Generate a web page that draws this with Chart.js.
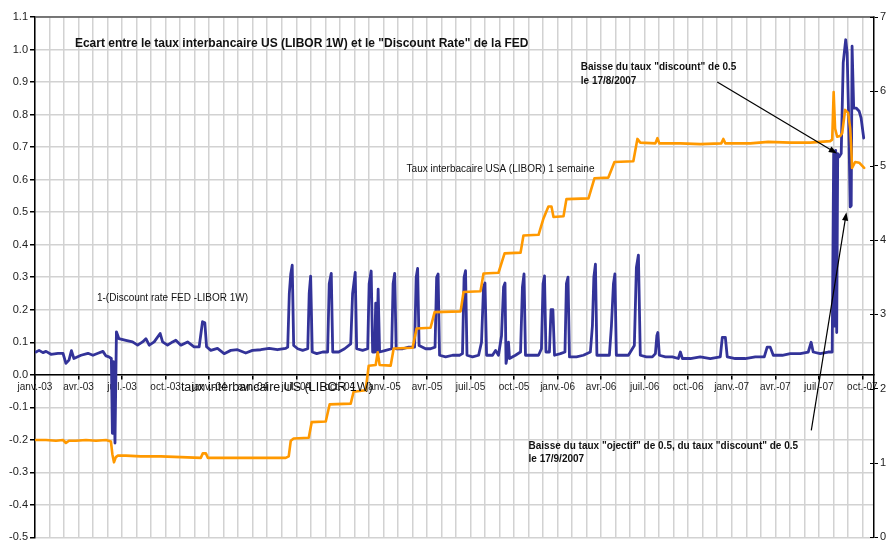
<!DOCTYPE html>
<html>
<head>
<meta charset="utf-8">
<script src="https://cdn.jsdelivr.net/npm/chart.js@4.4.1/dist/chart.umd.min.js"></script>
<style>
    html, body { margin: 0; padding: 0; background: #fff; overflow: hidden; }
    #wrap { width: 888px; height: 542px; overflow: hidden; }
</style>
</head>
<body>
<div id="wrap"><canvas id="chart" width="888" height="546"></canvas></div>
<script>
// x values are months counted from janv.-03 (0 = 1 Jan 2003)
const xTickLabels = [
    "janv.-03", "avr.-03", "juil.-03", "oct.-03",
    "janv.-04", "avr.-04", "juil.-04", "oct.-04",
    "janv.-05", "avr.-05", "juil.-05", "oct.-05",
    "janv.-06", "avr.-06", "juil.-06", "oct.-06",
    "janv.-07", "avr.-07", "juil.-07", "oct.-07",
];

// 1-(Discount rate FED - LIBOR 1W), left axis
const spreadMonths = [
    0.07, 0.28, 0.55, 0.76, 1.10, 1.58, 1.93, 2.13, 2.34, 2.51, 2.68, 3.17, 3.65, 3.99, 4.34, 4.68, 4.89, 5.09, 5.26, 5.33, 5.40, 5.51,
    5.61, 5.78, 6.26, 6.72, 7.07, 7.41, 7.64, 7.87, 8.21, 8.62, 8.79, 9.13, 9.48, 9.70, 10.05, 10.51, 10.96, 11.31, 11.54, 11.70, 11.82, 12.11, 12.57, 13.03, 13.49, 13.95, 14.52, 14.98, 15.55, 16.13, 16.70, 17.27,
    17.41, 17.52, 17.62, 17.72, 17.82, 18.10, 18.44, 18.79,
    18.89, 18.99, 19.10, 19.41, 19.82, 20.16,
    20.27, 20.41, 20.51, 20.92, 21.33, 21.75,
    21.88, 22.06, 22.16, 22.57, 22.92,
    23.02, 23.16, 23.26, 23.40, 23.47, 23.54, 23.64, 23.74, 24.16, 24.57,
    24.67, 24.78, 24.88, 25.33, 25.74, 26.15,
    26.26, 26.36, 26.46, 26.91, 27.25, 27.56,
    27.67, 27.77, 27.87, 28.29, 28.77, 29.25, 29.45,
    29.56, 29.66, 29.76, 30.14, 30.56, 30.76,
    30.90, 31.00, 31.11, 31.52, 31.73, 31.93, 32.14,
    32.28, 32.38, 32.45, 32.55, 32.62, 32.69, 33.10, 33.45,
    33.58, 33.69, 33.79, 34.27, 34.69, 34.89,
    35.00, 35.10, 35.20, 35.44, 35.55, 35.68, 35.79, 36.20, 36.51,
    36.61, 36.72, 36.82, 37.30, 37.78, 38.26, 38.40,
    38.50, 38.61, 38.71, 39.16, 39.57, 39.71,
    39.85, 39.95, 40.05, 40.47, 40.88, 41.29,
    41.43, 41.57, 41.70, 42.12, 42.53, 42.74,
    42.84, 42.91, 43.01, 43.43, 43.91, 44.32, 44.46, 44.60, 45.15, 45.83, 46.52, 47.21,
    47.35, 47.56, 47.69, 48.24, 48.93, 49.62, 50.24, 50.44, 50.65, 50.86, 51.48, 52.03, 52.72, 53.27, 53.47, 53.61, 54.09, 54.64, 54.92,
    55.02, 55.09, 55.16, 55.23, 55.30, 55.40, 55.54, 55.68, 55.85, 55.95, 56.05, 56.16, 56.23, 56.29, 56.40, 56.57, 56.78, 56.91, 57.09,
];
const spreadValues = [
    0.070, 0.075, 0.068, 0.072, 0.063, 0.066, 0.066, 0.035, 0.045, 0.074, 0.050, 0.060, 0.066, 0.060, 0.066, 0.072, 0.058, 0.055, 0.050, -0.180, 0.040, -0.210,
    0.132, 0.111, 0.106, 0.101, 0.091, 0.101, 0.111, 0.091, 0.101, 0.127, 0.101, 0.091, 0.101, 0.106, 0.091, 0.101, 0.086, 0.086, 0.163, 0.160, 0.086, 0.075, 0.081, 0.065, 0.075, 0.077, 0.067, 0.075, 0.077, 0.081, 0.077, 0.081,
    0.085, 0.25, 0.31, 0.337, 0.09, 0.08, 0.075, 0.08,
    0.25, 0.303, 0.07, 0.065, 0.07, 0.07,
    0.28, 0.312, 0.07, 0.07, 0.08, 0.095,
    0.25, 0.315, 0.08, 0.075, 0.08,
    0.28, 0.319, 0.07, 0.07, 0.22, 0.07, 0.263, 0.07, 0.075, 0.08,
    0.28, 0.312, 0.08, 0.08, 0.085, 0.085,
    0.30, 0.327, 0.09, 0.08, 0.08, 0.085,
    0.30, 0.31, 0.06, 0.055, 0.06, 0.06, 0.065,
    0.30, 0.32, 0.06, 0.055, 0.06, 0.10,
    0.27, 0.282, 0.06, 0.06, 0.075, 0.06, 0.12,
    0.27, 0.282, 0.035, 0.06, 0.10, 0.05, 0.06, 0.07,
    0.27, 0.31, 0.06, 0.06, 0.06, 0.08,
    0.28, 0.304, 0.07, 0.07, 0.20, 0.20, 0.06, 0.065, 0.07,
    0.28, 0.30, 0.055, 0.055, 0.06, 0.07, 0.15,
    0.30, 0.34, 0.06, 0.06, 0.06, 0.15,
    0.28, 0.31, 0.06, 0.06, 0.06, 0.09,
    0.33, 0.368, 0.06, 0.055, 0.055, 0.065,
    0.12, 0.13, 0.06, 0.055, 0.055, 0.05, 0.07, 0.05, 0.05, 0.055, 0.05, 0.055,
    0.115, 0.115, 0.055, 0.05, 0.05, 0.055, 0.055, 0.085, 0.085, 0.06, 0.06, 0.065, 0.065, 0.07, 0.10, 0.07, 0.065, 0.07, 0.07,
    0.68, 0.15, 0.69, 0.13, 0.68, 0.67, 0.68, 0.96, 1.03, 0.99, 0.80, 0.516, 0.52, 1.01, 0.82, 0.82, 0.81, 0.79, 0.728,
];

// LIBOR 1 week (%), right axis
const liborMonths = [
    0.07, 0.76, 1.45, 1.93, 2.13, 2.34, 2.82, 3.51, 4.20, 4.89,
    5.23, 5.33, 5.44, 5.57, 5.71, 6.26, 7.29, 8.67, 10.05, 11.42,
    11.56, 11.77, 11.91, 13.49, 15.55, 17.27, 17.48, 17.62, 17.82, 18.86,
    19.06, 20.03, 20.30, 21.75, 21.95, 22.78, 22.99, 23.47, 23.61, 23.74,
    24.50, 24.71, 26.01, 26.29, 27.25, 27.53, 29.32, 29.52, 30.69, 30.90,
    31.93, 32.35, 33.45, 33.65, 34.69, 35.03, 35.37, 35.58, 35.72, 36.41,
    36.61, 38.13, 38.54, 39.50, 39.92, 41.22, 41.50, 41.70, 42.74, 42.88,
    43.01, 44.46, 45.83, 47.28, 47.42, 47.56, 49.28, 50.51, 52.03, 53.40,
    54.78, 54.92, 55.02, 55.12, 55.26, 55.47, 55.61, 55.81, 56.02, 56.16,
    56.23, 56.29, 56.50, 56.78, 57.12,
];
const liborValues = [
    1.31, 1.31, 1.30, 1.31, 1.27, 1.30, 1.30, 1.31, 1.30, 1.31,
    1.29, 1.12, 1.01, 1.08, 1.10, 1.10, 1.09, 1.09, 1.08, 1.07,
    1.13, 1.13, 1.07, 1.07, 1.07, 1.07, 1.09, 1.30, 1.33, 1.34,
    1.55, 1.56, 1.79, 1.80, 1.96, 1.98, 2.31, 2.32, 2.49, 2.32,
    2.31, 2.54, 2.55, 2.81, 2.82, 3.03, 3.04, 3.30, 3.31, 3.55,
    3.56, 3.82, 3.83, 4.06, 4.07, 4.29, 4.45, 4.45, 4.31, 4.32,
    4.55, 4.56, 4.83, 4.84, 5.05, 5.06, 5.36, 5.31, 5.30, 5.37,
    5.30, 5.30, 5.29, 5.30, 5.36, 5.30, 5.30, 5.32, 5.31, 5.31,
    5.33, 5.35, 5.99, 5.50, 5.39, 5.40, 5.44, 5.75, 5.71, 5.50,
    5.25, 4.97, 5.05, 5.04, 4.97,
];

// text placed in chart coordinates (month, left-axis value)
const notes = [
    { text: 'Ecart entre le taux interbancaire US (LIBOR 1W) et le "Discount Rate" de la FED', x: 2.75, y: 1.017, bold: true, size: 12 },
    { text: 'Baisse du taux "discount" de 0.5', x: 37.6, y: 0.946, bold: true, size: 10 },
    { text: 'le 17/8/2007', x: 37.6, y: 0.903, bold: true, size: 10 },
    { text: 'Taux interbacaire USA (LIBOR) 1 semaine', x: 25.6, y: 0.632, bold: false, size: 10 },
    { text: '1-(Discount rate FED -LIBOR 1W)', x: 4.27, y: 0.235, bold: false, size: 10 },
    { text: 'taux interbancaire US (LIBOR 1W)', x: 10.05, y: -0.038, bold: false, size: 12.5 },
    { text: 'Baisse du taux "ojectif" de 0.5, du taux "discount" de 0.5', x: 34.0, y: -0.22, bold: true, size: 10 },
    { text: 'le 17/9/2007', x: 34.0, y: -0.26, bold: true, size: 10 },
];
const arrows = [
    { from: [47.0, 0.9], to: [55.26, 0.68] },
    { from: [53.48, -0.171], to: [55.9, 0.5] },
];

const FONT = "'Liberation Sans', Arial, sans-serif";

function toPoints(xs, ys) {
    if (xs.length != ys.length) console.error("length mismatch", xs.length, ys.length);
    return xs.map((m, i) => ({ x: m, y: ys[i] }));
}

const annotationPlugin = {
    id: "annotations",
    afterDatasetsDraw(chart) {
        const ctx = chart.ctx;
        const sx = chart.scales.x;
        const sy = chart.scales.y;
        const area = chart.chartArea;
        ctx.save();

        // dark top border of the plot
        ctx.strokeStyle = "#555";
        ctx.lineWidth = 1.5;
        ctx.beginPath();
        ctx.moveTo(area.left, area.top);
        ctx.lineTo(area.right, area.top);
        ctx.stroke();

        // right axis ticks cross the axis line
        const sy2 = chart.scales.y2;
        ctx.strokeStyle = "#000";
        ctx.lineWidth = 1;
        sy2.ticks.forEach((t) => {
            const py = Math.round(sy2.getPixelForValue(t.value)) + 0.5;
            ctx.beginPath();
            ctx.moveTo(area.right - 4, py);
            ctx.lineTo(area.right, py);
            ctx.stroke();
        });

        ctx.fillStyle = "#111";
        ctx.textAlign = "left";
        ctx.textBaseline = "middle";
        notes.forEach((n) => {
            ctx.font = (n.bold ? "bold " : "") + n.size + "px " + FONT;
            ctx.fillText(n.text, sx.getPixelForValue(n.x), sy.getPixelForValue(n.y));
        });

        arrows.forEach((a) => {
            const x1 = sx.getPixelForValue(a.from[0]);
            const y1 = sy.getPixelForValue(a.from[1]);
            const x2 = sx.getPixelForValue(a.to[0]);
            const y2 = sy.getPixelForValue(a.to[1]);
            const ang = Math.atan2(y2 - y1, x2 - x1);
            ctx.strokeStyle = "#000";
            ctx.lineWidth = 1.2;
            ctx.beginPath();
            ctx.moveTo(x1, y1);
            ctx.lineTo(x2 - 6 * Math.cos(ang), y2 - 6 * Math.sin(ang));
            ctx.stroke();
            ctx.fillStyle = "#000";
            ctx.beginPath();
            ctx.moveTo(x2, y2);
            ctx.lineTo(x2 - 9 * Math.cos(ang - 0.35), y2 - 9 * Math.sin(ang - 0.35));
            ctx.lineTo(x2 - 9 * Math.cos(ang + 0.35), y2 - 9 * Math.sin(ang + 0.35));
            ctx.closePath();
            ctx.fill();
        });
        ctx.restore();
    },
};

const gridColor = "#d2d2d2";

const cfg = {
    type: "line",
    data: {
        datasets: [
            {
                label: "LIBOR 1W",
                data: toPoints(liborMonths, liborValues),
                yAxisID: "y2",
                borderColor: "#ff9900",
                borderWidth: 2.6,
                borderJoinStyle: "round",
                borderCapStyle: "round",
                pointRadius: 0,
                tension: 0,
                order: 0,
            },
            {
                label: "1-(Discount rate FED -LIBOR 1W)",
                data: toPoints(spreadMonths, spreadValues),
                yAxisID: "y",
                borderColor: "#333399",
                borderWidth: 2.8,
                borderJoinStyle: "round",
                borderCapStyle: "round",
                pointRadius: 0,
                tension: 0,
                order: 1,
            },
        ],
    },
    options: {
        responsive: false,
        animation: false,
        events: [],
        layout: { padding: { top: 17, left: 0, right: 0, bottom: 0 } },
        plugins: {
            legend: { display: false },
            tooltip: { enabled: false },
        },
        scales: {
            x: {
                type: "linear",
                min: 0,
                max: 57.8,
                position: { y: 0 },
                afterBuildTicks: function (scale) {
                    const ticks = [];
                    for (let m = 0; m <= 57; m++) ticks.push({ value: m });
                    scale.ticks = ticks;
                },
                ticks: {
                    autoSkip: false,
                    maxRotation: 0,
                    minRotation: 0,
                    padding: 2,
                    color: "#222",
                    font: { family: FONT, size: 10 },
                    callback: function (v) {
                        return v % 3 === 0 ? xTickLabels[v / 3] : "";
                    },
                },
                grid: {
                    color: gridColor,
                    lineWidth: 1.5,
                    tickLength: 4,
                    tickColor: function (c) {
                        return c.tick && c.tick.value % 3 === 0 ? "#000" : "rgba(0,0,0,0)";
                    },
                },
                border: { color: "#000", width: 1.5 },
            },
            y: {
                type: "linear",
                position: "left",
                min: -0.5,
                max: 1.1,
                afterFit: function (scale) {
                    scale.width = 35;
                },
                ticks: {
                    stepSize: 0.1,
                    padding: 2,
                    color: "#222",
                    font: { family: FONT, size: 11 },
                    callback: function (v) {
                        return Math.abs(v) < 1e-9 ? "0.0" : v.toFixed(1);
                    },
                },
                grid: { color: gridColor, lineWidth: 1.5, tickLength: 5, tickColor: "#000" },
                border: { color: "#000", width: 1.5 },
            },
            y2: {
                type: "linear",
                position: "right",
                min: 0,
                max: 7,
                afterFit: function (scale) {
                    scale.width = 14;
                },
                ticks: {
                    stepSize: 1,
                    padding: 2,
                    color: "#222",
                    font: { family: FONT, size: 11 },
                },
                grid: { drawOnChartArea: false, tickLength: 4, tickColor: "#000" },
                border: { color: "#000", width: 1.5 },
            },
        },
    },
    plugins: [annotationPlugin],
};

const chart = new Chart(document.getElementById("chart"), cfg);
</script>
</body>
</html>
